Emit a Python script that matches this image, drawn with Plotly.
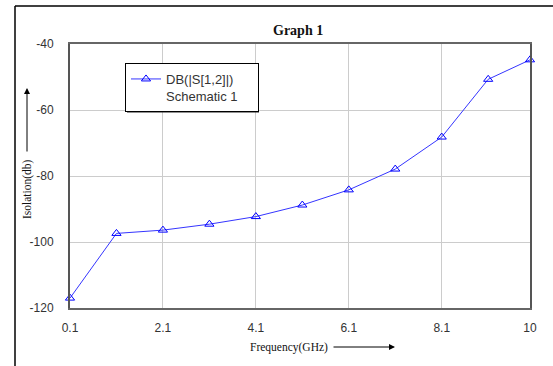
import plotly.graph_objects as go

freq_ghz = [0.1, 1.1, 2.1, 3.1, 4.1, 5.1, 6.1, 7.1, 8.1, 9.1, 10]
isolation_db = [-117.0, -97.4, -96.4, -94.6, -92.3, -88.8, -84.2, -77.9, -68.2, -50.7, -44.8]
x_ticks = [0.1, 2.1, 4.1, 6.1, 8.1, 10]
x_tick_labels = ["0.1", "2.1", "4.1", "6.1", "8.1", "10"]
y_ticks = [-120, -100, -80, -60, -40]
y_tick_labels = ["-120", "-100", "-80", "-60", "-40"]

W, H = 553, 366
L, R, T, B = 70, 530, 44, 308


def px(x):
    return (x - L) / (R - L)


def py(y):
    return (B - y) / (B - T)


SANS = "Liberation Sans, Arial, sans-serif"
SERIF = "Liberation Serif, Times New Roman, serif"

fig = go.Figure()
fig.add_trace(go.Scatter(
    x=freq_ghz, y=isolation_db, mode="lines+markers",
    name="DB(|S[1,2]|)<br>Schematic 1",
    line=dict(color="#3535ff", width=1),
    marker=dict(symbol="triangle-up-open", size=8, color="#0000ff",
                line=dict(width=1, color="#0000ff")),
    cliponaxis=False,
))

fig.update_layout(
    width=W, height=H,
    margin=dict(l=L, r=W - R, t=T, b=H - B, pad=0),
    paper_bgcolor="white", plot_bgcolor="white",
    font=dict(family=SANS, size=12, color="#333333"),
    showlegend=True,
    legend=dict(x=px(125), y=py(63), xanchor="left", yanchor="top",
                orientation="h", entrywidth=87, entrywidthmode="pixels",
                bgcolor="white", bordercolor="#000000", borderwidth=1,
                font=dict(family=SANS, size=13, color="#333333"),
                valign="top", itemwidth=30, tracegroupgap=0),
    xaxis=dict(range=[0.1, 10], tickvals=x_ticks, ticktext=x_tick_labels,
               showgrid=True, gridcolor="#cccccc", gridwidth=1,
               showline=True, linecolor="#666666", linewidth=2, mirror=True,
               ticks="", zeroline=False, ticklabelstandoff=8,
               tickfont=dict(family=SANS, size=12, color="#333333")),
    yaxis=dict(range=[-120, -40], tickvals=y_ticks, ticktext=y_tick_labels,
               showgrid=True, gridcolor="#cccccc", gridwidth=1,
               showline=True, linecolor="#555555", linewidth=2, mirror=True,
               ticks="", zeroline=False, ticklabelstandoff=12,
               tickfont=dict(family=SANS, size=12, color="#333333")),
)

shapes = [
    # outer frame (left and top)
    dict(type="line", xref="paper", yref="paper", x0=px(15), x1=px(15), y0=py(6), y1=py(370),
         line=dict(color="black", width=1.5)),
    dict(type="line", xref="paper", yref="paper", x0=px(15), x1=px(560), y0=py(6), y1=py(6),
         line=dict(color="black", width=1.5)),
    # legend drop shadow
    dict(type="rect", xref="paper", yref="paper", x0=px(127), x1=px(259), y0=py(65), y1=py(112.5),
         fillcolor="#222222", line=dict(width=0), layer="above"),
]
fig.update_layout(shapes=shapes)

annotations = [
    dict(text="<b>Graph 1</b>", xref="paper", yref="paper", x=px(298), y=py(31),
         xanchor="center", yanchor="middle",
         showarrow=False, font=dict(family=SERIF, size=14, color="#111111")),
    dict(text="Frequency(GHz)", xref="paper", yref="paper", x=px(289), y=py(347),
         xanchor="center", yanchor="middle",
         showarrow=False, font=dict(family=SERIF, size=11.5, color="#111111")),
    dict(text="Isolation(db)", xref="paper", yref="paper", x=px(27), y=py(189),
         xanchor="center", yanchor="middle",
         showarrow=False, textangle=-90, font=dict(family=SERIF, size=11.5, color="#111111")),
    dict(text="", xref="paper", yref="paper", x=px(395), y=py(347), ax=-63, ay=0,
         showarrow=True, arrowhead=2, arrowsize=1.2, arrowwidth=1, arrowcolor="black"),
    dict(text="", xref="paper", yref="paper", x=px(27), y=py(88), ax=0, ay=65,
         showarrow=True, arrowhead=2, arrowsize=1.2, arrowwidth=1, arrowcolor="black"),
]
fig.update_layout(annotations=annotations)

fig.write_html("out.html", config={"displayModeBar": False},
               post_script="document.body.style.margin='0';")
